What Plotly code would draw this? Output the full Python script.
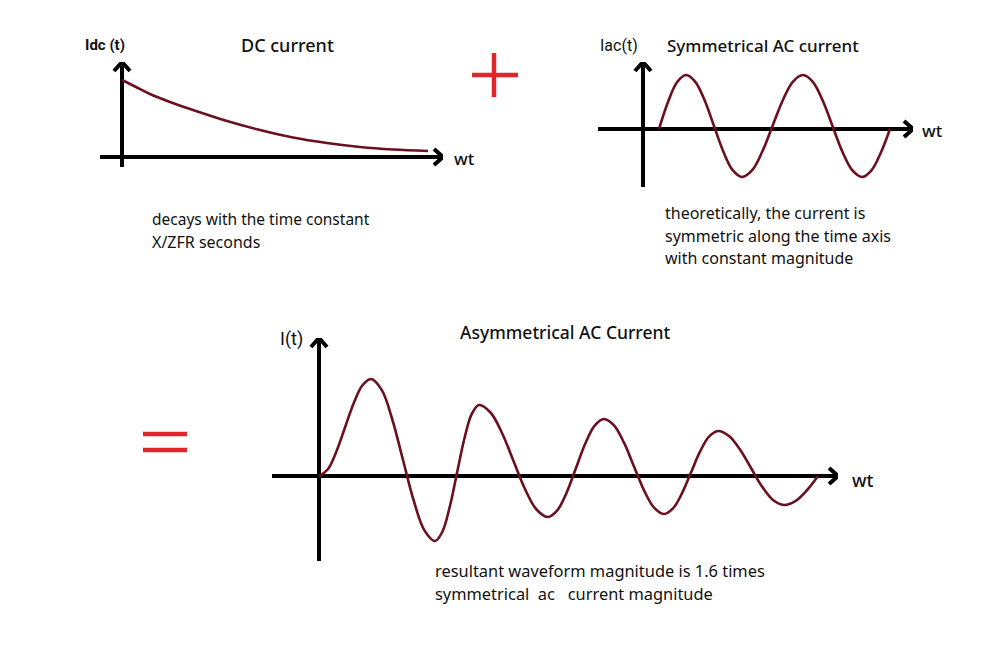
import plotly.graph_objects as go

# ---------------- data (units ~ pixels) ----------------
dc_wt = [0, 14, 28, 48, 71, 105, 138, 171, 205, 238, 271, 306]
dc_i = [77, 70, 63, 55, 47, 36, 27, 19.5, 14, 10, 7.5, 6]

ac_wt = [16, 25, 34, 43, 52.3, 61.7, 71, 80.3, 89.7, 99, 109.2, 119.3, 129.5, 139.7, 149.8, 160,
         169.8, 179.7, 189.5, 199.3, 209.2, 219, 228.3, 237.7, 247]
ac_i = [0, 27, 46.8, 54, 47.2, 28.5, 3, -22.5, -41.2, -48, -41.2, -22.5, 3, 28.5, 47.2, 54,
        47.2, 28.5, 3, -22.5, -41.2, -48, -41.6, -24, 0]

asym_wt = [0, 8.7, 17.3, 26, 34.7, 43.3, 52,
           62.7, 73.3, 84, 94.7, 105.3, 116,
           123.3, 130.7, 138, 145.3, 152.7, 160,
           171.5, 183, 194.5, 206, 217.5, 229,
           238.3, 247.7, 257, 266.3, 275.7, 285,
           295, 305, 315, 325, 335, 345,
           354, 363, 372, 381, 390, 399,
           410, 421, 432, 443, 454, 465,
           476.3, 487.7, 499]
asym_i = [0, 6.5, 24.3, 48.5, 72.8, 90.5, 97,
          86.1, 56.5, 16, -24.5, -54.1, -65,
          -55.9, -31, 3, 37, 61.9, 71,
          63.5, 43, 15, -13, -33.5, -41,
          -34.4, -16.5, 8, 32.5, 50.4, 57,
          50.6, 33.3, 9.5, -14.3, -31.6, -38,
          -32.4, -17.3, 3.5, 24.3, 39.4, 45,
          40, 26.5, 8, -10.5, -24, -29,
          -25.1, -14.5, 0]

# axis extents (data units) for each panel
dc_xr, dc_yr = [-22, 321], [-10, 95]
ac_xr, ac_yr = [-45, 270], [-58, 67]
as_xr, as_yr = [-47, 519], [-85, 138]

W, H = 1000, 667
CURVE = "#6a1020"
FONT = "Noto Sans"
LFONT = "Roboto"


def px(x):
    return x / W


def py(y):
    return 1 - y / H


fig = go.Figure()
for xs, ys, xa, ya in [(dc_wt, dc_i, "x", "y"), (ac_wt, ac_i, "x2", "y2"), (asym_wt, asym_i, "x3", "y3")]:
    fig.add_trace(go.Scatter(x=xs, y=ys, mode="lines", xaxis=xa, yaxis=ya,
                             line=dict(color=CURVE, width=2.6, shape="spline", smoothing=1.0),
                             showlegend=False, hoverinfo="skip"))


def ax(rng, dom, anchor):
    return dict(range=rng, domain=dom, anchor=anchor, showgrid=False, showticklabels=False,
                ticks="", zeroline=True, zerolinecolor="black", zerolinewidth=4,
                showline=False, fixedrange=True)


fig.update_layout(
    xaxis=ax(dc_xr, [px(100), px(443)], "y"),
    yaxis=ax(dc_yr, [py(167), py(62)], "x"),
    xaxis2=ax(ac_xr, [px(598), px(913)], "y2"),
    yaxis2=ax(ac_yr, [py(187), py(62)], "x2"),
    xaxis3=ax(as_xr, [px(272), px(838)], "y3"),
    yaxis3=ax(as_yr, [py(561), py(338)], "x3"),
)

# chevron arrow heads at the axis tips
shapes = []
for xr_, yr_, xa, ya in [(dc_xr, dc_yr, "x", "y"), (ac_xr, ac_yr, "x2", "y2"), (as_xr, as_yr, "x3", "y3")]:
    tx, ty = xr_[1], yr_[1]
    shapes.append(dict(type="path", xref=xa, yref=ya,
                       path=f"M {tx-9},{-8} L {tx},0 L {tx-9},{8}",
                       line=dict(color="black", width=4)))
    shapes.append(dict(type="path", xref=xa, yref=ya,
                       path=f"M {-8},{ty-9} L 0,{ty} L {8},{ty-9}",
                       line=dict(color="black", width=4)))

RED = "#e0262b"
# plus sign
shapes.append(dict(type="line", xref="paper", yref="paper", x0=px(494), x1=px(494), y0=py(53), y1=py(97),
                   line=dict(color=RED, width=4.5)))
shapes.append(dict(type="line", xref="paper", yref="paper", x0=px(472), x1=px(518), y0=py(75), y1=py(75),
                   line=dict(color=RED, width=4.5)))
# equals sign
for yy in (434, 450):
    shapes.append(dict(type="line", xref="paper", yref="paper", x0=px(143), x1=px(187), y0=py(yy), y1=py(yy),
                       line=dict(color=RED, width=4.5)))
fig.update_layout(shapes=shapes)

texts = [
    ("Idc (t)", 83, 45, "left", 15, "bold", LFONT),
    ("DC current", 287, 45, "center", 18, 500, FONT),
    ("wt", 452, 159, "left", 17, 500, FONT),
    ("decays with the time constant", 150, 219, "left", 15.5, 400, FONT),
    ("X/ZFR seconds", 150, 242, "left", 16, 400, FONT),
    ("Iac(t)", 598, 45, "left", 16, 400, LFONT),
    ("Symmetrical AC current", 763, 45, "center", 17, 500, FONT),
    ("wt", 920, 131, "left", 17, 500, FONT),
    ("theoretically, the current is", 663, 213, "left", 16, 400, FONT),
    ("symmetric along the time axis", 663, 236, "left", 16, 400, FONT),
    ("with constant magnitude", 663, 258, "left", 16, 400, FONT),
    ("I(t)", 278, 339, "left", 18, 400, LFONT),
    ("Asymmetrical AC Current", 565, 332, "center", 17.5, 500, FONT),
    ("wt", 850, 480, "left", 18, 500, FONT),
    ("resultant waveform magnitude is 1.6 times", 433, 570, "left", 16.4, 400, FONT),
    ("symmetrical&nbsp;&nbsp;ac&nbsp;&nbsp;&nbsp;current magnitude", 433, 593, "left", 16.4, 400, FONT),
]
annots = []
for t, x, y, anc, sz, wt, fam in texts:
    annots.append(dict(text=t, x=px(x), y=py(y), xref="paper", yref="paper", xanchor=anc, yanchor="middle",
                       showarrow=False, font=dict(family=fam, size=sz, color="#111111", weight=wt)))
fig.update_layout(annotations=annots)

fig.update_layout(width=W, height=H, autosize=False, margin=dict(l=0, r=0, t=0, b=0),
                  paper_bgcolor="white", plot_bgcolor="rgba(0,0,0,0)", showlegend=False)

fig.write_html("out.html", config={"displayModeBar": False, "staticPlot": True},
               post_script="document.body.style.margin='0';document.body.style.overflow='hidden';")
